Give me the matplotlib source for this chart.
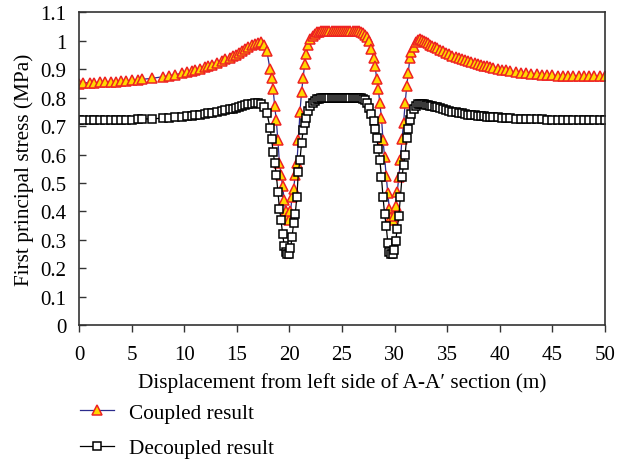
import matplotlib
matplotlib.use("Agg")
import matplotlib.pyplot as plt

plt.rcParams['font.family'] = ['Liberation Serif', 'DejaVu Serif']

# Positions along the section (m), shared by both series.
x = [0, 0.35, 1.0, 1.4, 2.0, 2.5, 3.0, 3.5, 4.0, 4.5, 5.0, 5.6, 6.0, 6.9, 8.0, 8.5,
     9.1, 9.8, 10.3, 10.7, 11.0, 11.5, 12.0, 12.3, 12.6, 13.1, 13.6, 13.9, 14.3,
     14.6, 14.9, 15.2, 15.5, 15.8, 16.1, 16.4, 16.7, 17.0, 17.3, 17.6, 17.85,
     18.15, 18.3, 18.45, 18.6, 18.75, 18.9, 19.05, 19.2, 19.35, 19.5, 19.65, 19.8,
     19.95, 20.1, 20.25, 20.4, 20.55, 20.7, 20.85, 21.0, 21.15, 21.3, 21.45, 21.6,
     21.8, 22.0, 22.2, 22.4, 22.6,
     22.8, 23.0, 23.2, 23.4, 23.6, 23.8, 24.0, 24.2, 24.4, 24.6, 24.8, 25.0, 25.2,
     25.4, 25.6, 25.8, 26.0, 26.2, 26.4, 26.6, 26.8, 27.0, 27.2,
     27.4, 27.6, 27.8, 28.0, 28.15, 28.3, 28.45, 28.6, 28.75, 28.9, 29.05, 29.2,
     29.35, 29.5, 29.65, 29.8, 29.95, 30.1, 30.25, 30.4, 30.55, 30.7, 30.85, 31.0,
     31.15, 31.3, 31.45, 31.6, 31.8, 32.0, 32.2, 32.4,
     32.6, 32.8, 33.0, 33.2, 33.4, 33.6, 33.8, 34.0, 34.3, 34.6, 34.9, 35.2, 35.5,
     35.8, 36.1, 36.4, 36.7, 37.0, 37.3, 37.6, 37.9, 38.2, 38.5, 38.8, 39.1, 39.4,
     39.8, 40.2, 40.6, 41.0, 41.5, 42.0, 42.5, 43.0, 43.5, 44.0, 44.5, 45.0, 45.5,
     46.0, 46.5, 47.0, 47.5, 48.0, 48.5, 49.0, 49.5, 50.0]

# Coupled result (MPa)
coupled = [0.850, 0.852, 0.853, 0.853, 0.854, 0.855, 0.856, 0.857, 0.858, 0.860,
           0.861, 0.863, 0.865, 0.868, 0.874, 0.877, 0.881, 0.886, 0.890, 0.894,
           0.897, 0.902, 0.908, 0.912, 0.916, 0.923, 0.930, 0.935, 0.941, 0.946,
           0.951, 0.957, 0.963, 0.970, 0.977, 0.984, 0.990, 0.994, 0.995, 0.985,
           0.964,
           0.90, 0.87, 0.83, 0.77, 0.72, 0.65, 0.57, 0.53, 0.49, 0.44, 0.40, 0.38,
           0.37, 0.40, 0.45, 0.48, 0.53, 0.57, 0.65, 0.75, 0.82, 0.87, 0.92, 0.955,
           0.985, 1.005, 1.018, 1.025, 1.030,
           1.032, 1.034, 1.035, 1.035, 1.036, 1.036, 1.036, 1.036, 1.036, 1.036,
           1.036, 1.036, 1.036, 1.036, 1.036, 1.036, 1.036, 1.035, 1.035, 1.034,
           1.032, 1.028, 1.022,
           1.012, 1.0, 0.97, 0.94, 0.91, 0.865, 0.83, 0.78, 0.73, 0.65, 0.59, 0.525,
           0.465, 0.41, 0.38, 0.37, 0.385, 0.42, 0.47, 0.52, 0.58, 0.655, 0.71, 0.78,
           0.84, 0.888, 0.94, 0.96, 0.978, 0.995, 1.003, 1.005,
           1.004, 1.0, 0.996, 0.991, 0.986, 0.982, 0.978, 0.974, 0.968, 0.963, 0.958,
           0.953, 0.948, 0.944, 0.940, 0.936, 0.932, 0.928, 0.925, 0.922, 0.919,
           0.916, 0.913, 0.910, 0.907, 0.905, 0.902, 0.899, 0.896, 0.893, 0.890,
           0.888, 0.886, 0.884, 0.882, 0.881, 0.880, 0.879, 0.878, 0.878, 0.877,
           0.877, 0.876, 0.876, 0.876, 0.876, 0.876, 0.876]

# Decoupled result (MPa)
decoupled = [0.720, 0.720, 0.720, 0.720, 0.720, 0.721, 0.721, 0.721, 0.722, 0.722,
             0.723, 0.724, 0.725, 0.726, 0.728, 0.729, 0.731, 0.733, 0.735, 0.737,
             0.738, 0.740, 0.743, 0.745, 0.747, 0.750, 0.753, 0.756, 0.759, 0.762,
             0.765, 0.768, 0.771, 0.774, 0.777, 0.779, 0.781, 0.781, 0.778, 0.768,
             0.748,
             0.695, 0.655, 0.61, 0.57, 0.53, 0.47, 0.41, 0.37, 0.32, 0.28, 0.258,
             0.25, 0.25, 0.27, 0.31, 0.36, 0.39, 0.45, 0.54, 0.58, 0.64, 0.685, 0.71,
             0.73, 0.755, 0.772, 0.783, 0.79, 0.794,
             0.796, 0.798, 0.799, 0.800, 0.800, 0.800, 0.800, 0.800, 0.800, 0.800,
             0.800, 0.800, 0.800, 0.800, 0.800, 0.800, 0.800, 0.800, 0.800, 0.799,
             0.799, 0.797, 0.793,
             0.782, 0.765, 0.742, 0.718, 0.69, 0.66, 0.62, 0.58, 0.52, 0.45, 0.39,
             0.35, 0.29, 0.258, 0.25, 0.252, 0.265, 0.295, 0.34, 0.385, 0.45, 0.52,
             0.565, 0.60, 0.66, 0.69, 0.722, 0.742, 0.76, 0.772, 0.777, 0.779,
             0.779, 0.778, 0.776, 0.774, 0.772, 0.770, 0.768, 0.766, 0.763, 0.760,
             0.757, 0.754, 0.751, 0.749, 0.747, 0.745, 0.743, 0.741, 0.739, 0.738,
             0.737, 0.736, 0.735, 0.734, 0.733, 0.732, 0.731, 0.730, 0.729, 0.728,
             0.727, 0.726, 0.725, 0.725, 0.724, 0.724, 0.723, 0.723, 0.723, 0.722,
             0.722, 0.722, 0.722, 0.722, 0.721, 0.721, 0.721, 0.721]

x_ticks = list(range(0, 51, 5))
y_ticks = [i / 10 for i in range(0, 12)]
y_tick_labels = ["0", "0.1", "0.2", "0.3", "0.4", "0.5", "0.6", "0.7", "0.8",
                 "0.9", "1", "1.1"]

fig = plt.figure(figsize=(6.23, 4.64), dpi=100)
ax = fig.add_axes([0.127, 0.297, 0.844, 0.674])

ax.plot(x, coupled, color="#2b2b8c", linewidth=0.9, marker="^", markersize=6.5,
        markerfacecolor="#ffd800", markeredgecolor="#ee2222", markeredgewidth=1.1,
        label="Coupled result")
ax.plot(x, decoupled, color="black", linewidth=0.9, marker="s", markersize=5.8,
        markerfacecolor="white", markeredgecolor="black", markeredgewidth=1.1,
        label="Decoupled result")

ax.set_xlim(0, 50)
ax.set_ylim(0, 1.1)
ax.set_xticks(x_ticks)
ax.set_yticks(y_ticks)
ax.set_yticklabels(y_tick_labels)
ax.tick_params(axis="x", direction="out", length=5, width=1, labelsize=15,
               colors="#333333", labelcolor="black", pad=9)
ax.tick_params(axis="y", direction="in", length=5, width=1, labelsize=15,
               colors="#333333", labelcolor="black", pad=9)
for s in ax.spines.values():
    s.set_color("#333333")
    s.set_linewidth(1.2)

ax.set_xlabel("Displacement from left side of A-A\u2032 section (m)", fontsize=15.3,
              labelpad=6)
ax.set_ylabel("First principal stress (MPa)", fontsize=15.3, labelpad=5)

fig.legend(loc="upper left", bbox_to_anchor=(80 / 623, 1 - 404 / 464),
           bbox_transform=fig.transFigure, borderaxespad=0, borderpad=0,
           frameon=False, fontsize=15.3, handlelength=1.6, handletextpad=0.7,
           labelspacing=0.72, numpoints=1)

fig.savefig("out.png", dpi=100)
